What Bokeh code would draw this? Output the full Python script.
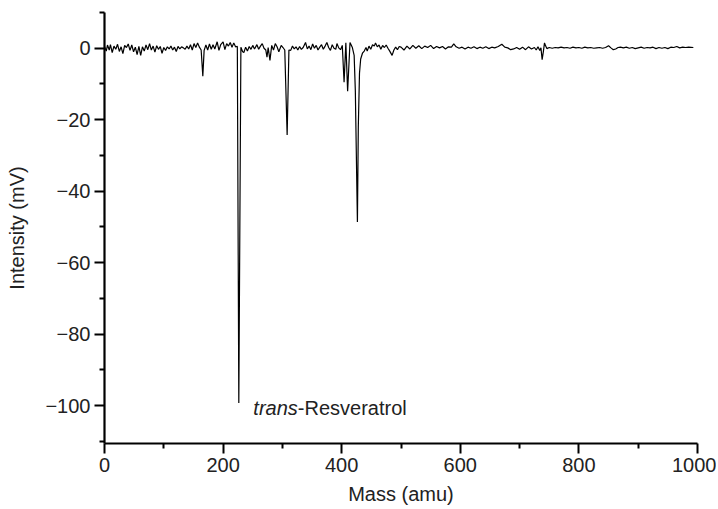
from bokeh.plotting import figure
from bokeh.models import FixedTicker, Range1d, Label, ColumnDataSource
from bokeh.embed import file_html
from bokeh.resources import INLINE

# ---- data ----
mass = [0, 3, 5, 8, 10, 13, 16, 19, 22, 25, 28, 31, 34, 37, 40, 43, 46, 49, 52, 55,
        58, 61, 64, 67, 70, 73, 76, 79, 82, 85, 88, 91, 94, 97, 100, 103, 106, 109, 112, 115,
        118, 121, 124, 127, 130, 133, 136, 139, 142, 145, 148, 151, 154, 157, 160, 163, 165.8, 168, 171, 174,
        177, 180, 183, 186, 190, 193, 196, 200, 203, 206, 209, 212, 215, 218, 221, 224, 226.5, 230, 233, 235,
        238, 241, 244, 247, 250, 253, 257, 260, 263, 266, 269, 272, 274, 276, 279, 282, 285, 288, 291, 294,
        298, 301, 304, 308, 311, 314, 317, 320, 323, 326, 329, 332, 335, 339, 342, 345, 348, 351, 354, 357,
        360, 363, 366, 369, 372, 375, 378, 381, 384, 387, 390, 392, 395, 398, 401, 404, 407, 410, 414, 418,
        421, 423, 426.5, 428, 430, 432, 435, 438, 441, 443, 446, 449, 452, 455, 457, 460, 463, 466, 469, 472,
        475, 478, 481, 485, 488, 491, 494, 497, 500, 505, 510, 515, 520, 525, 530, 535, 540, 545, 550, 555,
        560, 565, 570, 575, 580, 585, 589, 593, 598, 603, 608, 613, 618, 623, 628, 633, 638, 643, 648, 653,
        658, 664, 670, 675, 680, 685, 690, 695, 700, 705, 710, 715, 720, 725, 728, 731, 734, 736, 738, 740,
        742, 744, 746, 750, 755, 760, 765, 770, 775, 780, 785, 790, 795, 800, 805, 810, 815, 820, 825, 830,
        835, 840, 845, 850, 854, 858, 862, 866, 870, 875, 880, 885, 890, 895, 900, 905, 910, 915, 920, 925,
        930, 935, 940, 945, 950, 955, 960, 965, 970, 975, 980, 985, 993]
intensity = [0.5, -0.8, 0.9, -0.5, 1.0, -1.2, 0.6, -0.3, 1.1, -0.9, 0.4, -1.5, 0.8, 0.2, 1.2, -0.6, 0.9, -1.0, 0.3, -1.8,
             0.5, -2.0, 0.4, -0.8, 0.9, -0.4, 1.3, -0.5, 0.6, -1.1, 0.7, -0.3, 0.5, -1.4, 0.2, -0.6, 0.4, -0.2, 0.6, -0.5,
             0.3, -0.9, 0.5, -0.2, 0.4, 0.1, -0.3, 0.6, -0.2, 1.0, -0.5, 1.3, 0.2, 1.5, 0.3, -0.5, -7.8, -0.6, 0.9, -0.5,
             1.2, -0.3, 1.0, -0.2, 1.8, -0.6, 1.0, 1.8, -0.4, 1.3, 0.6, 1.6, 0.3, 1.5, 0.4, 0.5, -99.3, 0.3, -1.0, -1.2,
             0.3, -0.8, 0.5, -0.3, 0.8, -0.2, 1.0, -0.3, 0.6, 1.3, 0.0, -0.5, -2.5, 0.2, -3.4, 0.8, -0.5, 1.3, 0.4, -1.0,
             0.8, 0.2, -0.5, -24.3, -0.5, -0.6, 0.6, -0.2, 0.4, -0.5, 0.5, -0.3, 0.2, 1.6, -0.2, 0.6, -0.4, 1.2, 0.0, 0.8,
             -0.5, 0.3, 1.0, -0.3, 0.6, 1.6, 0.2, -0.6, 1.0, 0.0, -0.3, 1.3, 0.1, -0.4, 0.8, -9.5, 1.5, -12.0, 1.6, 0.2,
             -2.0, -12.0, -48.6, -22.0, -7.0, -3.0, -1.4, -0.8, 0.2, -0.8, 0.6, -0.3, 1.0, 0.6, 1.5, 0.4, 0.9, -0.3, 0.8, 0.2,
             0.9, 0.0, -0.8, -2.0, -0.5, 0.3, -0.4, 0.5, 0.3, -0.5, 0.6, -0.2, 0.8, 0.0, 0.7, -0.1, 0.6, 0.2, 0.8, -0.1,
             0.5, 0.1, 0.5, -0.2, 0.4, 0.3, 1.2, 0.4, 0.0, 0.3, -0.2, 0.3, 0.0, 0.4, -0.1, 0.3, 0.0, 0.4, -0.1, 0.3,
             0.1, 0.5, 1.1, 0.3, 0.1, -0.4, -0.2, 0.2, -0.3, 0.3, -0.4, 0.4, -0.2, 0.2, -0.5, 0.4, -0.6, 0.1, -3.2, -1.0,
             1.5, 0.6, -0.1, 0.2, 0.0, 0.2, 0.1, 0.3, 0.1, 0.2, 0.0, 0.3, 0.1, 0.2, 0.0, 0.3, 0.1, 0.2, 0.0, 0.1,
             0.2, 0.0, 0.2, 0.7, 0.1, -0.4, -0.2, 0.2, 0.3, 0.1, 0.3, 0.0, 0.2, -0.1, 0.1, 0.3, 0.0, 0.2, 0.1, 0.3,
             -0.1, 0.2, 0.0, 0.2, -0.1, 0.3, 0.2, 0.5, 0.1, 0.3, 0.2, 0.3, 0.2]

x_ticks = [0, 200, 400, 600, 800, 1000]
x_minor = [100, 300, 500, 700, 900]
y_ticks = [-100, -80, -60, -40, -20, 0]
y_minor = [-110, -90, -70, -50, -30, -10, 10]
y_tick_labels = {t: (str(t).replace("-", "\u2212")) for t in y_ticks}

peak_label_italic = "trans"
peak_label_rest = "-Resveratrol"
peak_label_mass = 251
peak_label_intensity = -100.6

FONT = "Liberation Sans"
FS = "20px"

p = figure(width=716, height=507, output_backend="svg", toolbar_location=None,
           x_range=Range1d(0, 1000), y_range=Range1d(-110.6, 10),
           min_border_left=104, min_border_right=19, min_border_top=12, min_border_bottom=63)
p.outline_line_color = None
p.grid.visible = False
p.background_fill_color = "white"
p.border_fill_color = "white"

src = ColumnDataSource(dict(mass=mass, intensity=intensity))
p.line("mass", "intensity", source=src, line_color="black", line_width=1.2)

for ax in (p.xaxis[0], p.yaxis[0]):
    ax.axis_line_width = 2.2
    ax.major_tick_line_width = 2
    ax.minor_tick_line_width = 2
    ax.major_tick_in = 0
    ax.major_tick_out = 10
    ax.minor_tick_in = 0
    ax.minor_tick_out = 5
    ax.major_label_text_font = FONT
    ax.major_label_text_font_size = FS
    ax.major_label_text_color = "#222222"
    ax.axis_label_text_font = FONT
    ax.axis_label_text_font_size = FS
    ax.axis_label_text_font_style = "normal"
    ax.axis_label_text_color = "#222222"

p.xaxis[0].ticker = FixedTicker(ticks=x_ticks, minor_ticks=x_minor)
p.yaxis[0].ticker = FixedTicker(ticks=y_ticks, minor_ticks=y_minor)
p.yaxis[0].major_label_overrides = y_tick_labels
p.xaxis[0].axis_label = "Mass (amu)"
p.yaxis[0].axis_label = "Intensity (mV)"
p.xaxis[0].major_label_standoff = 4
p.xaxis[0].axis_label_standoff = 8
p.yaxis[0].major_label_standoff = 4
p.yaxis[0].axis_label_standoff = 14

lab1 = Label(x=peak_label_mass, y=peak_label_intensity, text=peak_label_italic,
             text_font=FONT, text_font_size=FS, text_font_style="italic",
             text_baseline="alphabetic", text_color="#222222")
lab2 = Label(x=peak_label_mass, y=peak_label_intensity, x_offset=44.5, text=peak_label_rest,
             text_font=FONT, text_font_size=FS, text_font_style="normal",
             text_baseline="alphabetic", text_color="#222222")
p.add_layout(lab1)
p.add_layout(lab2)

open("out.html", "w").write(file_html(p, INLINE))
